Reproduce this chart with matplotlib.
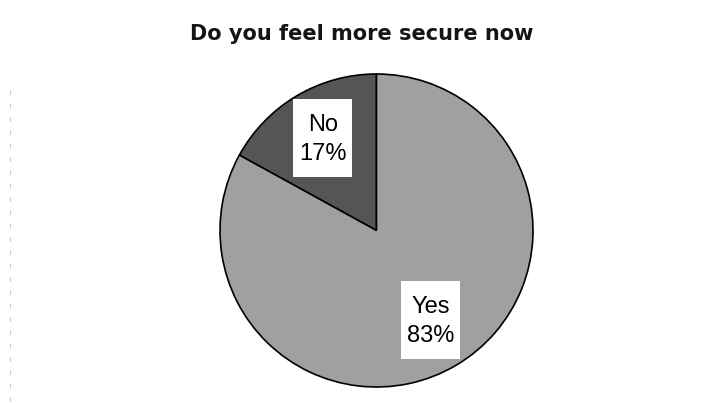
import matplotlib
matplotlib.use("Agg")
import matplotlib.pyplot as plt
from matplotlib.lines import Line2D
from matplotlib.patches import Rectangle

categories = ["No", "Yes"]
values = [17, 83]
colors = ["#555555", "#a0a0a0"]
title = "Do you feel more secure now"

W, H = 703, 403
fig = plt.figure(figsize=(W / 100, H / 100), dpi=100)
fig.patch.set_facecolor("white")

cx, cy, r = 376.5, 230.5, 156.5
ax = fig.add_axes([(cx - r) / W, (H - cy - r) / H, 2 * r / W, 2 * r / H])
ax.axis("off")

labels = [f"{c}\n{v}%" for c, v in zip(categories, values)]
wedges, texts = ax.pie(
    values, labels=labels, colors=colors, startangle=90, counterclock=True,
    radius=1, labeldistance=0.675,
    wedgeprops=dict(edgecolor="black", linewidth=1.2),
    textprops=dict(fontsize=17, family="Liberation Sans", ha="center", va="center",
                   linespacing=1.45),
)
ax.set_xlim(-1, 1)
ax.set_ylim(-1, 1)
ax.set_aspect("equal")

fig.canvas.draw()
renderer = fig.canvas.get_renderer()
inv = ax.transData.inverted()
padx, pady = 6, 15
for t in texts:
    t.set_horizontalalignment("center")
    t.set_zorder(6)
    bb = t.get_window_extent(renderer)
    (x0, y0) = inv.transform((bb.x0 - padx, bb.y0 - pady + 3))
    (x1, y1) = inv.transform((bb.x1 + padx, bb.y1 + pady))
    ax.add_patch(Rectangle((x0, y0), x1 - x0, y1 - y0, facecolor="white",
                           edgecolor="none", zorder=4))

fig.text(362 / W, 1 - 34 / H, title, ha="center", va="center", fontsize=15,
         fontweight="bold", family="DejaVu Sans", color="#151515")

fig.add_artist(Line2D([10 / W, 10 / W], [1 - 90 / H, 0], color="#c8c8c8",
                      linewidth=0.8, linestyle=(0, (4, 8))))

fig.savefig("out.png", dpi=100, facecolor="white")
